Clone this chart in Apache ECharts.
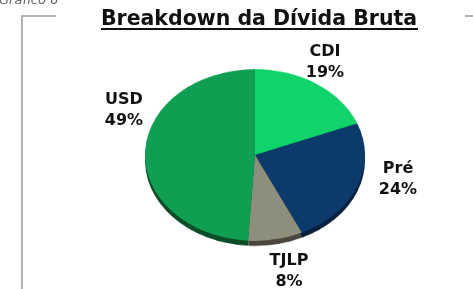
<!DOCTYPE html>
<html>
<head>
<meta charset="utf-8">
<script src="https://cdn.jsdelivr.net/npm/echarts@6/dist/echarts.min.js"></script>
<style>
  body { margin: 0; background: #fff; }
  #wrap { position: relative; width: 473px; height: 289px; overflow: hidden; }
  /* o pie fica num div achatado para dar o efeito 3D (elipse) */
  #pie { position: absolute; left: 0; top: 0; width: 473px; height: 289px;
         transform: scaleY(0.78); transform-origin: 0 155px; }
  #main { position: absolute; left: 0; top: 0; width: 473px; height: 289px; }
</style>
</head>
<body>
<div id="wrap">
  <div id="pie"></div>
  <div id="main"></div>
</div>
<script>
const categories = ['CDI', 'Pré', 'TJLP', 'USD']
const values = [19, 24, 8, 49]
const topColors = ['#10d46a', '#0b3a6b', '#8e8e7d', '#109e52']
const sideColors = ['#0a8a45', '#06213f', '#4a463e', '#0a4d27']
// posição (centro) de cada rótulo
const labelPos = [[325, 62], [398, 179], [289, 271], [124, 110]]

const cx = 255
const cy = 155
const r = 110
const squash = 0.78

// pie (fatias)
const pieChart = echarts.init(document.getElementById('pie'))
const mkData = (colors) => categories.map((name, i) => ({
  name: name,
  value: values[i],
  itemStyle: { color: colors[i] }
}))
pieChart.setOption({
  animation: false,
  series: [
    {
      // lateral (profundidade)
      type: 'pie',
      center: [cx, cy + 6.5],
      radius: r,
      startAngle: 90,
      silent: true,
      label: { show: false },
      labelLine: { show: false },
      itemStyle: { borderWidth: 0 },
      data: mkData(sideColors),
      z: 1
    },
    {
      type: 'pie',
      center: [cx, cy],
      radius: r,
      startAngle: 90,
      silent: true,
      label: { show: false },
      labelLine: { show: false },
      itemStyle: { borderWidth: 0 },
      data: mkData(topColors),
      z: 2
    }
  ]
})

// título, moldura e rótulos
const myChart = echarts.init(document.getElementById('main'))
myChart.setOption({
  animation: false,
  graphic: [
    {
      type: 'text',
      x: -1,
      y: 7,
      style: {
        text: 'Gráfico 6',
        fontSize: 13,
        fontStyle: 'italic',
        fontFamily: 'DejaVu Sans',
        fill: '#666',
        align: 'left',
        verticalAlign: 'bottom'
      }
    },
    {
      type: 'text',
      x: 259,
      y: 19.5,
      style: {
        text: 'Breakdown da Dívida Bruta',
        fontSize: 20.5,
        fontWeight: 'bold',
        fontFamily: 'DejaVu Sans',
        fill: '#111',
        align: 'center',
        verticalAlign: 'middle'
      }
    },
    {
      type: 'line',
      shape: { x1: 101, y1: 29, x2: 418, y2: 29 },
      style: { stroke: '#111', lineWidth: 2 }
    },
    {
      type: 'polyline',
      shape: { points: [[56, 16], [22, 16], [22, 290]] },
      style: { stroke: '#b3b3b3', lineWidth: 2, fill: null }
    },
    {
      type: 'line',
      shape: { x1: 465, y1: 16, x2: 474, y2: 16 },
      style: { stroke: '#b3b3b3', lineWidth: 2 }
    }
  ],
  series: [
    {
      type: 'pie',
      center: [cx, cy],
      radius: [0, r * squash],
      startAngle: 90,
      silent: true,
      itemStyle: { color: 'rgba(0,0,0,0)', borderWidth: 0 },
      labelLine: { show: false },
      label: {
        show: true,
        position: 'outside',
        formatter: (p) => p.name + '\n' + Math.round(p.percent) + '%',
        fontFamily: 'DejaVu Sans',
        fontWeight: 'bold',
        fontSize: 16,
        lineHeight: 21,
        color: '#111'
      },
      labelLayout: (params) => {
        const p = labelPos[params.dataIndex]
        return { x: p[0], y: p[1], align: 'center', verticalAlign: 'middle' }
      },
      data: categories.map((name, i) => ({ name: name, value: values[i] }))
    }
  ]
})
</script>
</body>
</html>
